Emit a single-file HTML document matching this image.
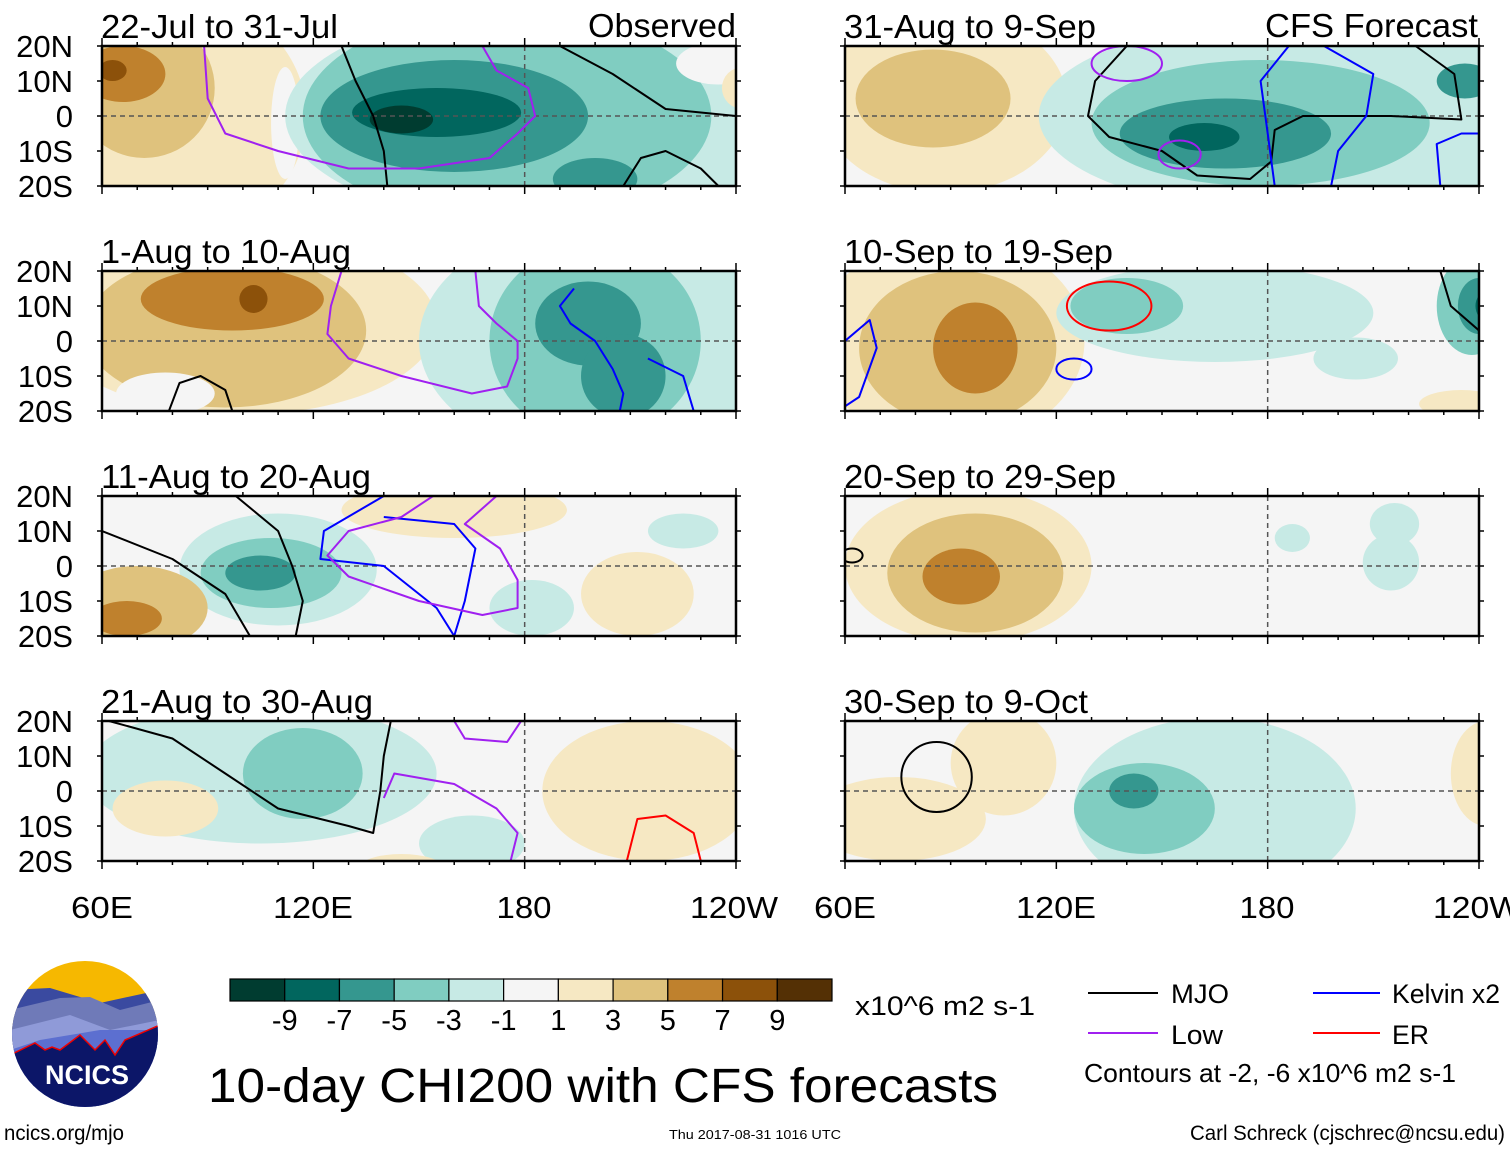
<!DOCTYPE html>
<html><head><meta charset="utf-8"><style>
html,body{margin:0;padding:0;background:#fff;}
svg{display:block;font-family:"Liberation Sans",sans-serif;}
</style></head><body>
<svg id="fig" width="1510" height="1149" viewBox="0 0 1510 1149" xmlns="http://www.w3.org/2000/svg">
<g id="panels"></g>
<g id="colorbar"></g>
<g font-size="31" text-anchor="middle">
<text x="102" y="918" textLength="62" lengthAdjust="spacingAndGlyphs">60E</text><text x="313" y="918" textLength="80" lengthAdjust="spacingAndGlyphs">120E</text><text x="524" y="918" textLength="55" lengthAdjust="spacingAndGlyphs">180</text><text x="734" y="918" textLength="88" lengthAdjust="spacingAndGlyphs">120W</text>
<text x="845" y="918" textLength="62" lengthAdjust="spacingAndGlyphs">60E</text><text x="1056" y="918" textLength="80" lengthAdjust="spacingAndGlyphs">120E</text><text x="1267" y="918" textLength="55" lengthAdjust="spacingAndGlyphs">180</text><text x="1477" y="918" textLength="88" lengthAdjust="spacingAndGlyphs">120W</text>
</g>
<text x="855" y="1015" font-size="27" textLength="180" lengthAdjust="spacingAndGlyphs">x10^6 m2 s-1</text>
<text x="208" y="1102" font-size="48" textLength="790" lengthAdjust="spacingAndGlyphs">10-day CHI200 with CFS forecasts</text>
<g font-size="27">
<line x1="1088" y1="993" x2="1158" y2="993" stroke="#000" stroke-width="2"/>
<text x="1171" y="1003" textLength="58" lengthAdjust="spacingAndGlyphs">MJO</text>
<line x1="1088" y1="1033" x2="1158" y2="1033" stroke="#a020f0" stroke-width="2"/>
<text x="1171" y="1044" textLength="52" lengthAdjust="spacingAndGlyphs">Low</text>
<line x1="1313" y1="993" x2="1380" y2="993" stroke="#0000ff" stroke-width="2"/>
<text x="1392" y="1003" textLength="108" lengthAdjust="spacingAndGlyphs">Kelvin x2</text>
<line x1="1313" y1="1033" x2="1380" y2="1033" stroke="#ff0000" stroke-width="2"/>
<text x="1392" y="1044" textLength="37" lengthAdjust="spacingAndGlyphs">ER</text>
<text x="1084" y="1082" font-size="26" textLength="372" lengthAdjust="spacingAndGlyphs">Contours at -2, -6 x10^6 m2 s-1</text>
</g>
<text x="1190" y="1140" font-size="21" textLength="315" lengthAdjust="spacingAndGlyphs">Carl Schreck (cjschrec@ncsu.edu)</text>
<text x="669" y="1139" font-size="13" textLength="172" lengthAdjust="spacingAndGlyphs">Thu 2017-08-31 1016 UTC</text>
<text x="4" y="1140" font-size="21" textLength="120" lengthAdjust="spacingAndGlyphs">ncics.org/mjo</text>
<g>
<defs><clipPath id="lc"><circle cx="85" cy="1034" r="73"/></clipPath></defs>
<g clip-path="url(#lc)">
<rect x="10" y="960" width="150" height="150" fill="#f6b800"/>
<path d="M10 990 L50 988 L100 1003 L160 990 L160 1110 L10 1110Z" fill="#3a4aa0"/>
<path d="M10 1010 L60 998 L90 997 L120 1010 L160 1000 L160 1110 L10 1110Z" fill="#6f7ab8"/>
<path d="M10 1030 L70 1015 L110 1030 L160 1020 L160 1110 L10 1110Z" fill="#8f9ad8"/>
<path d="M10 1050 L40 1040 L100 1030 L160 1030 L160 1110 L10 1110Z" fill="#5c6fd0"/>
<path d="M10 1055 L35 1043 L45 1050 L52 1047 L60 1050 L80 1035 L95 1050 L105 1040 L115 1055 L125 1040 L160 1025 L160 1110 L10 1110Z" fill="#0c1668" stroke="#e00" stroke-width="1.5"/>
</g>
<text x="87" y="1084" font-size="27" font-weight="bold" fill="#fff" text-anchor="middle">NCICS</text>
</g>
</svg>
<script>
// colorbar data
const levelColors = ["#003c30","#01665e","#35978f","#80cdc1","#c7eae5","#f5f5f5","#f6e8c3","#dfc27d","#bf812d","#8c510a","#543005"];
const tickLabels = ["-9","-7","-5","-3","-1","1","3","5","7","9"];
// panel metadata
const panelTitles = ["22-Jul to 31-Jul","1-Aug to 10-Aug","11-Aug to 20-Aug","21-Aug to 30-Aug","31-Aug to 9-Sep","10-Sep to 19-Sep","20-Sep to 29-Sep","30-Sep to 9-Oct"];
const titleWidths = [237,250,270,272,252,269,272,244];
const latLabels = ["20N","10N","0","10S","20S"];
const latTicks = [20,10,0,-10,-20];
// anomaly blobs: [lon, lat, lon-radius, lat-radius, level index]
const blobs0 = [[80,0,38,35,6],[72,8,20,20,7],[66,12,12,8,8],[63,13,4,3,9],[112,-2,4,16,5],[190,0,78,32,4],[175,0,58,30,3],[200,-18,12,6,2],[160,0,38,16,2],[155,1,24,7,1],[145,-1,9,4,0],[235,15,12,6,5],[242,8,6,6,6]];
const blobs1 = [[100,5,55,26,6],[95,3,40,22,7],[97,12,26,9,8],[103,12,4,4,9],[78,-15,14,6,5],[205,0,55,35,4],[200,0,30,28,3],[198,5,15,12,2],[208,-10,12,12,2],[252,10,10,12,6]];
const blobs2 = [[110,-1,28,16,4],[108,-2,20,10,3],[105,-2,10,5,2],[70,-12,20,12,7],[67,-15,10,5,8],[160,16,32,8,6],[212,-8,16,12,6],[225,10,10,5,4],[182,-12,12,8,4]];
const blobs3 = [[105,5,50,20,4],[117,5,17,13,3],[165,-15,15,8,4],[78,-5,15,8,6],[215,0,30,20,6],[145,-22,12,4,6]];
const blobs4 = [[88,4,35,26,6],[85,5,22,14,7],[190,0,75,28,4],[178,-2,48,18,3],[168,-5,30,10,2],[162,-6,10,4,1],[236,10,8,5,2]];
const blobs5 = [[90,0,38,30,6],[92,-2,28,22,7],[97,-2,12,13,8],[165,8,45,14,4],[140,10,16,8,3],[205,-5,12,6,4],[238,10,10,14,3],[240,10,6,8,2],[242,10,3,4,1],[235,-18,12,4,6]];
const blobs6 = [[95,0,35,22,6],[97,-2,25,17,7],[93,-3,11,8,8],[215,1,8,8,4],[216,12,7,6,4],[187,8,5,4,4]];
const blobs7 = [[165,-5,40,26,4],[145,-5,20,13,3],[142,0,7,5,2],[75,-8,25,12,6],[105,8,15,15,6],[242,5,10,15,6]];
const allBlobs = [blobs0,blobs1,blobs2,blobs3,blobs4,blobs5,blobs6,blobs7];
// contour lines: [color, lon1, lat1, lon2, lat2, ...]
const contours0 = [["#000",128,20,132,10,137,0,140,-10,141,-20],["#a020f0",89,20,90,5,95,-5,110,-10,130,-15,150,-15,170,-12,178,-5,183,0,181,8,172,13,168,20],["#000",190,20,205,12,220,2,240,0],["#000",208,-20,213,-12,220,-10,230,-15,235,-20]];
const contours1 = [["#a020f0",128,20,125,10,124,2,130,-5,145,-10,165,-15,175,-13,178,-5,178,0,172,5,167,10,166,20],["#0000ff",194,15,190,10,193,5,200,0,205,-8,208,-15,207,-20],["#0000ff",215,-5,225,-10,228,-20],["#000",79,-20,82,-12,88,-10,95,-14,97,-20]];
const contours2 = [["#000",60,10,80,2,95,-8,102,-20],["#000",98,20,110,10,114,0,117,-10,115,-20],["#0000ff",140,20,123,10,122,2,140,0,155,-12,160,-20],["#0000ff",140,14,160,12,166,5,163,-10,160,-20],["#a020f0",172,20,163,12,173,5,178,-4,178,-12,168,-14,150,-10,130,-3,124,3,130,10,145,14,154,20]];
const contours3 = [["#000",62,20,80,15,95,5,110,-5,130,-10,137,-12,139,0,140,10,142,20],["#a020f0",140,-2,143,5,160,2,172,-5,178,-12,176,-20],["#a020f0",160,20,163,15,175,14,179,20],["#ff0000",209,-20,212,-8,220,-7,228,-12,230,-20]];
const contours4 = [["#000",140,20,131,10,129,0,135,-6,150,-10,160,-17,175,-18,181,-13,182,-4,190,0,215,0,235,-1,233,12,222,20],["#0000ff",186,20,178,10,180,-5,182,-20],["#0000ff",196,20,210,12,208,0,200,-10,198,-20],["#0000ff",229,-20,228,-8,235,-5,240,-5]];
const contours5 = [["#0000ff",60,0,67,6,69,-2,64,-16,58,-20],["#000",229,20,232,10,240,3]];
const contours6 = [];
const contours7 = [];
const allContours = [contours0,contours1,contours2,contours3,contours4,contours5,contours6,contours7];
// closed contour loops: [color, lon, lat, lon-radius, lat-radius]
const loops = [[5,"#ff0000",135,10,12,7],[5,"#0000ff",125,-8,5,3],[4,"#a020f0",155,-11,6,4],[4,"#a020f0",140,15,10,5],[7,"#000",86,4,10,10],[6,"#000",62,3,3,2]];

const NS="http://www.w3.org/2000/svg";
function mk(tag,attrs,parent){const e=document.createElementNS(NS,tag);for(const k in attrs)e.setAttribute(k,attrs[k]);parent.appendChild(e);return e;}
const panelX=[102,845], panelY=[46,271,496,721], PW=634, PH=140;
const panelsG=document.getElementById('panels');
for(let p=0;p<8;p++){
  const col=p<4?0:1, row=p%4;
  const x0=panelX[col], y0=panelY[row];
  const xs=lon=>x0+(lon-60)/180*PW;
  const ys=lat=>y0+(20-lat)/40*PH;
  const g=mk('g',{},panelsG);
  
  
  const cid='pc'+p;
  const cp=mk('clipPath',{id:cid},g);
  mk('rect',{x:x0,y:y0,width:PW,height:PH},cp);
  const inner=mk('g',{'clip-path':'url(#'+cid+')'},g);
  mk('rect',{x:x0,y:y0,width:PW,height:PH,fill:levelColors[5]},inner);
  allBlobs[p].forEach(b=>{
    const e=mk('ellipse',{cx:xs(b[0]),cy:ys(b[1]),rx:Math.abs(xs(b[0]+b[2])-xs(b[0])),ry:Math.abs(ys(b[1]+b[3])-ys(b[1])),fill:levelColors[b[4]]},inner);
    
    
  });
  mk('line',{x1:x0,y1:ys(0),x2:x0+PW,y2:ys(0),stroke:'#555','stroke-width':1.5,'stroke-dasharray':'5,4'},inner);
  mk('line',{x1:xs(180),y1:y0,x2:xs(180),y2:y0+PH,stroke:'#555','stroke-width':1.5,'stroke-dasharray':'5,4'},inner);
  allContours[p].forEach(c=>{
    const pts=[];for(let i=1;i<c.length;i+=2)pts.push(xs(c[i]).toFixed(1)+','+ys(c[i+1]).toFixed(1));
    const pl=mk('polyline',{points:pts.join(' '),fill:'none',stroke:c[0],'stroke-width':2,'stroke-linejoin':'round'},inner);
    
    
  });
  loops.filter(l=>l[0]===p).forEach(l=>{
    const e=mk('ellipse',{cx:xs(l[2]),cy:ys(l[3]),rx:Math.abs(xs(l[2]+l[4])-xs(l[2])),ry:Math.abs(ys(l[3]+l[5])-ys(l[3])),fill:'none',stroke:l[1],'stroke-width':2},inner);
    
    
  });
  const fr=mk('rect',{x:x0,y:y0,width:PW,height:PH,fill:'none',stroke:'#000','stroke-width':2.5},g);
  
  
  for(let lon=60;lon<=240;lon+=10){
    const L=(lon%60===0)?8:4;
    mk('line',{x1:xs(lon),y1:y0-L,x2:xs(lon),y2:y0,stroke:'#000','stroke-width':1.5},g);
    mk('line',{x1:xs(lon),y1:y0+PH,x2:xs(lon),y2:y0+PH+L,stroke:'#000','stroke-width':1.5},g);
  }
  latTicks.forEach(l=>{
    mk('line',{x1:x0-5,y1:ys(l),x2:x0,y2:ys(l),stroke:'#000','stroke-width':1.5},g);
    mk('line',{x1:x0+PW,y1:ys(l),x2:x0+PW+5,y2:ys(l),stroke:'#000','stroke-width':1.5},g);
  });
  const t=mk('text',{x:x0-1,y:y0-8,'font-size':33,textLength:titleWidths[p],lengthAdjust:'spacingAndGlyphs'},g);
  t.textContent=panelTitles[p];
  
  
  if(col===0){
    latTicks.forEach((l,i)=>{
      const lt=mk('text',{x:73,y:ys(l)+11,'font-size':31,'text-anchor':'end'},g);
      lt.textContent=latLabels[i];
      
      
    });
  }
}
const ot=mk('text',{x:588,y:37,'font-size':33,textLength:148,lengthAdjust:'spacingAndGlyphs'},panelsG);ot.textContent='Observed';


const ft=mk('text',{x:1265,y:37,'font-size':33,textLength:213,lengthAdjust:'spacingAndGlyphs'},panelsG);ft.textContent='CFS Forecast';


// colorbar
const cb=document.getElementById('colorbar');
const cbX=230, cbY=979, cbW=602/levelColors.length, cbH=22;
levelColors.forEach((c,i)=>{
  const r=mk('rect',{x:cbX+i*cbW,y:cbY,width:cbW,height:cbH,fill:c,stroke:'#000','stroke-width':1.2},cb);
  
  
});
tickLabels.forEach((s,i)=>{
  const t=mk('text',{x:cbX+(i+1)*cbW,y:1030,'font-size':29,'text-anchor':'middle'},cb);
  t.textContent=s;
  
  
});
</script>
</body></html>
